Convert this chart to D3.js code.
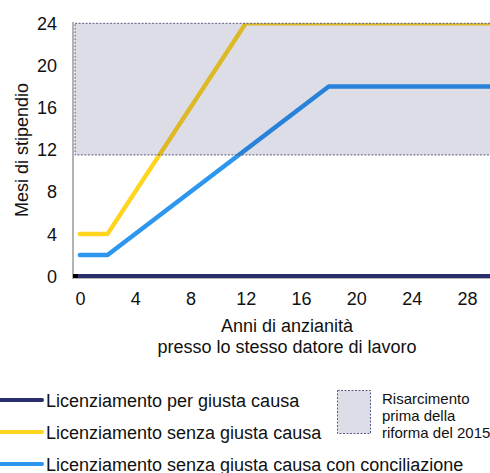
<!DOCTYPE html>
<html><head><meta charset="utf-8">
<script src="https://cdn.jsdelivr.net/npm/d3@7"></script>
<style>body{margin:0;background:#fff}svg{display:block;font-family:Arial,"Liberation Sans",sans-serif}</style>
</head><body>
<svg id="c" width="490" height="473"></svg>
<script>
// Data
const xTicks = [0, 4, 8, 12, 16, 20, 24, 28];
const yTicks = [0, 4, 8, 12, 16, 20, 24];
const seriesNames = ["Licenziamento per giusta causa", "Licenziamento senza giusta causa", "Licenziamento senza giusta causa con conciliazione"];
const seriesColors = ["#2a2f6b", "#ffd520", "#2d96ee"];
const justCauseX = [-0.5, 30];
const justCauseY = [0, 0];
const unjustX = [0, 2, 12, 30];
const unjustY = [4, 4, 24, 24];
const conciliationX = [0, 2, 18, 30];
const conciliationY = [2, 2, 18, 18];
const preReformBand = { x0: -0.35, x1: 31, y0: 11.5, y1: 24 };
const bandLabel = ["Risarcimento", "prima della", "riforma del 2015"];

const FONT = "Arial,'Liberation Sans',sans-serif";
const svg = d3.select("#c");
const x = d3.scaleLinear().domain([-0.5, 30]).range([73, 494.6]);
const y = d3.scaleLinear().domain([0, 24]).range([276, 23.3]);

svg.append("defs").append("clipPath").attr("id", "clip")
  .append("rect").attr("x", 73).attr("y", y(24)).attr("width", 430).attr("height", y(0) - y(24) + 4);

// axes lines
svg.append("line").attr("x1", 73).attr("x2", 73).attr("y1", 22).attr("y2", 279)
  .attr("stroke", "#9a9a9a").attr("stroke-width", 1.5);
svg.append("line").attr("x1", 73).attr("x2", 490).attr("y1", 278.5).attr("y2", 278.5)
  .attr("stroke", "#b5b5b5").attr("stroke-width", 1);

// y ticks
const yAxis = d3.axisLeft(y).tickValues(yTicks).tickSize(0).tickPadding(0);
const gy = svg.append("g").attr("transform", "translate(57,0)").call(yAxis);
gy.select(".domain").remove();
gy.selectAll("text").attr("font-size", 18).attr("fill", "#111").attr("font-family", FONT).attr("dy", "0.34em");

const xAxis = d3.axisBottom(x).tickValues(xTicks).tickSize(0).tickPadding(0);
const gx = svg.append("g").attr("transform", "translate(0,305)").call(xAxis);
gx.select(".domain").remove();
gx.selectAll("text").attr("font-size", 18).attr("fill", "#111").attr("font-family", FONT).attr("dy", 0).attr("y", 0);

// lines
const plot = svg.append("g").attr("clip-path", "url(#clip)");
const line = d3.line().x(d => x(d[0])).y(d => y(d[1]));
const seriesData = [
  d3.zip(justCauseX, justCauseY),
  d3.zip(unjustX, unjustY),
  d3.zip(conciliationX, conciliationY)
];
seriesData.forEach((d, i) => {
  plot.append("path").datum(d).attr("d", line).attr("fill", "none")
    .attr("stroke", seriesColors[i]).attr("stroke-width", i === 0 ? 4 : 4.5)
    .attr("stroke-linecap", i === 0 ? "butt" : "round").attr("stroke-linejoin", "round");
});
// black start bit of navy line
svg.append("rect").attr("x", 73).attr("y", y(0) - 2).attr("width", 5).attr("height", 4).attr("fill", "#000");

// band
const bandFill = "rgba(15,15,90,0.14)";
svg.append("rect")
  .attr("x", x(preReformBand.x0)).attr("y", y(preReformBand.y1))
  .attr("width", x(preReformBand.x1) - x(preReformBand.x0))
  .attr("height", y(preReformBand.y0) - y(preReformBand.y1))
  .attr("fill", bandFill).attr("stroke", "#5a5a85").attr("stroke-width", 1)
  .attr("stroke-dasharray", "2,1.5");

// axis titles
svg.append("text").attr("transform", "translate(28,150) rotate(-90)").attr("text-anchor", "middle")
  .attr("font-size", 18).attr("fill", "#111").text("Mesi di stipendio");
svg.append("text").attr("x", 287).attr("y", 332).attr("text-anchor", "middle")
  .attr("font-size", 18).attr("fill", "#111").text("Anni di anzianità");
svg.append("text").attr("x", 287).attr("y", 353).attr("text-anchor", "middle")
  .attr("font-size", 18).attr("fill", "#111").text("presso lo stesso datore di lavoro");

// legend
const legY = [400, 432, 464];
seriesNames.forEach((n, i) => {
  svg.append("line").attr("x1", -5).attr("x2", 42).attr("y1", legY[i]).attr("y2", legY[i])
    .attr("stroke", seriesColors[i]).attr("stroke-width", 4).attr("stroke-linecap", "round");
  svg.append("text").attr("x", 46).attr("y", legY[i] + 6.5).attr("font-size", 18).attr("fill", "#111").text(n);
});
svg.append("rect").attr("x", 337.5).attr("y", 390.5).attr("width", 33).attr("height", 43)
  .attr("fill", bandFill).attr("stroke", "#5a5a85").attr("stroke-width", 1).attr("stroke-dasharray", "2,1.5");
bandLabel.forEach((t, i) => {
  svg.append("text").attr("x", 382).attr("y", 404 + i * 17).attr("font-size", 15).attr("fill", "#111").text(t);
});
</script>
</body></html>
